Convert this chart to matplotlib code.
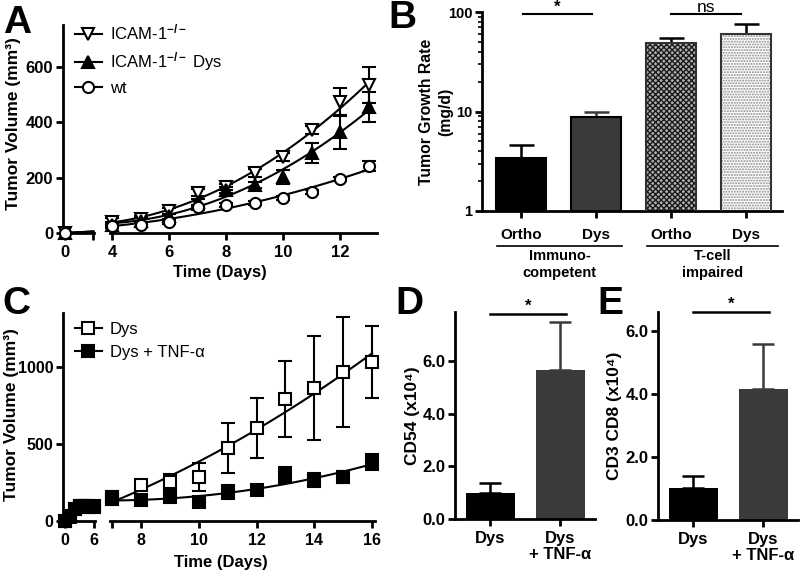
import matplotlib
matplotlib.use("Agg")
import matplotlib.pyplot as plt
import numpy as np
from matplotlib.lines import Line2D
from matplotlib.transforms import blended_transform_factory

plt.rcParams['font.family'] = ['Liberation Sans', 'DejaVu Sans']
plt.rcParams['font.weight'] = 'bold'
plt.rcParams['axes.labelweight'] = 'bold'
plt.rcParams['mathtext.fontset'] = 'custom'
plt.rcParams['mathtext.rm'] = 'Liberation Sans'
plt.rcParams['mathtext.it'] = 'Liberation Sans:italic'
plt.rcParams['mathtext.bf'] = 'Liberation Sans:bold'

# ---- panel A: tumor volume, ICAM-1 knockouts
a_days_early = [0, 1]
a_icam_early = [0, 6]
a_dys_early = [0, 5]
a_wt_early = [0, 4]
a_days = [4, 5, 6, 7, 8, 9, 10, 11, 12, 13]
a_icam = [40, 50, 80, 145, 166, 216, 274, 371, 472, 533]
a_icam_err = [15, 10, 10, 12, 12, 15, 15, 15, 50, 65]
a_dys = [30, 45, 60, 110, 155, 173, 202, 288, 364, 454]
a_dys_err = [10, 8, 10, 12, 10, 12, 25, 35, 60, 55]
a_wt = [25, 29, 40, 92, 101, 108, 126, 148, 195, 241]
a_wt_err = [8, 6, 6, 8, 6, 6, 8, 8, 8, 18]
a_names = ['ICAM-1$^{-/-}$', 'ICAM-1$^{-/-}$ Dys', 'wt']

# ---- panel B: growth rate (log)
b_labels = ['Ortho', 'Dys', 'Ortho', 'Dys']
b_vals = [3.43, 8.9, 48.3, 60.0]
b_err = [1.2, 1.1, 6.3, 15.7]
b_groups = ['Immuno-\ncompetent', 'T-cell\nimpaired']

# ---- panel C: Dys vs Dys + TNF
c_days_early = [0, 1, 2, 3, 4, 5, 6]
c_dys_early = [0, 30, 80, 100, 100, 95, 95]
c_tnf_early = [0, 25, 75, 95, 100, 90, 90]
c_days = [7, 8, 9, 10, 11, 12, 13, 14, 15, 16]
c_dys = [156, 234, 253, 286, 474, 604, 792, 863, 967, 1032]
c_dys_err = [20, 30, 50, 90, 160, 195, 245, 340, 355, 235]
c_tnf = [140, 136, 156, 123, 188, 201, 299, 266, 286, 383]
c_tnf_err = [15, 20, 25, 15, 45, 35, 50, 45, 40, 55]
c_names = ['Dys', 'Dys + TNF-α']

# ---- panels D / E
de_labels = ['Dys', 'Dys\n+ TNF-α']
d_vals = [1.0, 5.66]
d_err = [0.36, 1.81]
e_vals = [1.02, 4.16]
e_err = [0.38, 1.43]

W, H = 800, 576
fig = plt.figure(figsize=(8, 5.76), dpi=100)


def add_ax(x0, y0, x1, y1):
    return fig.add_axes([x0 / W, 1 - y1 / H, (x1 - x0) / W, (y1 - y0) / H])


def style(ax, size=12, left=True):
    ax.patch.set_alpha(0)
    for s in ['top', 'right']:
        ax.spines[s].set_visible(False)
    for s in ['left', 'bottom']:
        ax.spines[s].set_linewidth(2)
    ax.tick_params(width=2, length=5, labelsize=size)
    ax.tick_params(axis='y', pad=2)
    if not left:
        ax.spines['left'].set_visible(False)
        ax.tick_params(axis='y', left=False, labelleft=False)


def ftext(x, y, s, **kw):
    fig.text(x / W, 1 - y / H, s, ha='center', va='center', **kw)


def legend_at(handles, names, x, y):
    fig.legend(handles, names, loc='upper left',
               bbox_to_anchor=(x / W, 1 - y / H), frameon=False,
               prop={'weight': 'normal', 'size': 12}, handlelength=1.6,
               labelspacing=0.45, handletextpad=0.5, borderpad=0,
               borderaxespad=0)


# ================= A =================
axA0 = add_ax(63, 25, 94, 233)
axA1 = add_ax(110, 25, 377, 233)
style(axA0)
style(axA1, left=False)
for ax in (axA0, axA1):
    ax.set_ylim(0, 750)
axA0.set_xlim(-0.07, 1.02)
axA0.set_xticks([0, 1])
axA0.set_xticklabels(['0', ''])
axA0.set_yticks([0, 200, 400, 600])
axA1.set_xlim(3.93, 13.28)
axA1.set_xticks([4, 6, 8, 10, 12])

a_series = [
    (a_icam_early, a_icam, a_icam_err, 'v', 'white'),
    (a_dys_early, a_dys, a_dys_err, '^', 'black'),
    (a_wt_early, a_wt, a_wt_err, 'o', 'white'),
]
xf = np.linspace(4, 13, 100)
for early, vals, err, mk, fc in a_series:
    axA0.plot(a_days_early, early, color='k', lw=1.5, marker=mk, mfc=fc,
              mec='k', ms=8, mew=1.5, markevery=[0], clip_on=False, zorder=3)
    axA1.errorbar(a_days, vals, yerr=err, fmt='none', ecolor='k',
                  elinewidth=1.5, capsize=5, capthick=1.5, clip_on=False)
    coef = np.polyfit(a_days, vals, 2)
    axA1.plot(xf, np.polyval(coef, xf), color='k', lw=1.5, clip_on=False)
    axA1.plot(a_days, vals, ls='none', marker=mk, mfc=fc, mec='k', ms=8,
              mew=1.5, clip_on=False, zorder=4)

handles = [Line2D([], [], color='k', lw=1.5, marker=mk, mfc=fc, mec='k',
                  ms=8, mew=1.5) for _, _, _, mk, fc in a_series]
legend_at(handles, a_names, 75, 23)
ftext(220, 272, 'Time (Days)', fontsize=12, fontweight='bold')
ftext(14, 124, 'Tumor Volume (mm³)', fontsize=12.5, fontweight='bold',
      rotation=90)

# ================= B =================
axB = add_ax(482, 12, 782, 211)
style(axB, size=10.5)
axB.set_yscale('log')
xb = np.arange(len(b_vals))
face = ['black', '#3a3a3a', '#b0b0b0', 'white']
hatch = [None, None, 'xxxxxx', '......']
hcol = ['black', '#3a3a3a', '#1a1a1a', '#8a8a8a']
for i in range(len(b_vals)):
    axB.bar(xb[i], b_vals[i], width=0.67, color=face[i], hatch=hatch[i],
            edgecolor=hcol[i], linewidth=0, zorder=2)
    axB.bar(xb[i], b_vals[i], width=0.67, fill=False,
            edgecolor='black' if i < 2 else '#333333', linewidth=1.5, zorder=3)
    axB.errorbar(xb[i], b_vals[i], yerr=[[0], [b_err[i]]], fmt='none',
                 ecolor='black' if i != 1 else '#3a3a3a', elinewidth=1.8,
                 capsize=9, capthick=1.8, zorder=1)
axB.set_ylim(1, 100)
axB.set_xlim(-0.52, 3.48)
axB.set_yticks([1, 10, 100])
axB.set_yticklabels(['1', '10', '100'])
axB.tick_params(axis='y', which='minor', length=3, width=1.2)
axB.set_xticks(xb)
axB.set_xticklabels(b_labels, fontsize=11)
axB.tick_params(axis='x', pad=7)
axB.plot([0.02, 0.95], [95, 95], color='k', lw=1.5, clip_on=False)
axB.text(0.48, 112, '*', ha='center', va='center', fontsize=12)
axB.plot([2.0, 2.93], [95, 95], color='k', lw=1.5, clip_on=False)
axB.text(2.47, 112, 'ns', ha='center', va='center', fontsize=12.5,
         fontweight='normal')
trB = blended_transform_factory(axB.transData, axB.transAxes)
for (x0, x1), g in zip([(-0.32, 1.35), (1.68, 3.43)], b_groups):
    axB.plot([x0, x1], [-0.176, -0.176], color='k', lw=1.2,
             transform=trB, clip_on=False)
    axB.text((x0 + x1) / 2, -0.19, g, transform=trB, ha='center', va='top',
             fontsize=10.5, linespacing=1.3)
ftext(436, 112, 'Tumor Growth Rate\n(mg/d)', fontsize=11.3,
      fontweight='bold', rotation=90, linespacing=1.35)

# ================= C =================
axC0 = add_ax(63, 313, 95, 521)
axC1 = add_ax(110, 313, 375, 521)
style(axC0, size=11.5)
style(axC1, size=11.5, left=False)
for ax in (axC0, axC1):
    ax.set_ylim(0, 1350)
axC0.set_xlim(-0.41, 6.2)
axC0.set_xticks([0, 6])
axC0.set_yticks([0, 500, 1000])
axC1.set_xlim(6.93, 16.1)
axC1.set_xticks([7, 8, 10, 12, 14, 16])
axC1.set_xticklabels(['', '8', '10', '12', '14', '16'])

c_series = [
    (c_dys_early, c_dys, c_dys_err, 'white'),
    (c_tnf_early, c_tnf, c_tnf_err, 'black'),
]
xc = np.linspace(7, 16, 100)
for early, vals, err, fc in c_series:
    axC0.plot(c_days_early, early, color='k', lw=1.5, marker='s', mfc=fc,
              mec='k', ms=8, mew=1.5, clip_on=False, zorder=3)
    axC1.errorbar(c_days, vals, yerr=err, fmt='none', ecolor='k',
                  elinewidth=1.5, capsize=5, capthick=1.5, clip_on=False)
    coef = np.polyfit(c_days, vals, 2)
    axC1.plot(xc, np.polyval(coef, xc), color='k', lw=1.5, clip_on=False)
    axC1.plot(c_days, vals, ls='none', marker='s', mfc=fc, mec='k', ms=8,
              mew=1.5, clip_on=False, zorder=4)

handles = [Line2D([], [], color='k', lw=1.5, marker='s', mfc=fc, mec='k',
                  ms=8, mew=1.5) for _, _, _, fc in c_series]
legend_at(handles, c_names, 75, 322)
ftext(221, 563, 'Time (Days)', fontsize=12, fontweight='bold')
ftext(12, 415, 'Tumor Volume (mm³)', fontsize=12.5, fontweight='bold',
      rotation=90)


# ================= D / E =================
def bar_panel(ax, vals, err, ylim, yticks, ylabel, star_y):
    style(ax)
    xs = np.arange(len(vals))
    cols = ['black', '#3a3a3a']
    for i in range(len(vals)):
        ax.bar(xs[i], vals[i], width=0.7, color=cols[i], zorder=2)
        ax.errorbar(xs[i], vals[i], yerr=[[0], [err[i]]], fmt='none',
                    ecolor=cols[i], elinewidth=1.8, capsize=8, capthick=1.8,
                    zorder=1)
    ax.set_xlim(-0.5, 1.5)
    ax.set_ylim(*ylim)
    ax.set_yticks(yticks)
    ax.set_yticklabels(['%.1f' % t for t in yticks])
    ax.set_xticks(xs)
    ax.set_xticklabels(de_labels, linespacing=1.1)
    ax.set_ylabel(ylabel, fontsize=12.5, labelpad=2)
    ax.plot([0, 1.08], [star_y, star_y], color='k', lw=1.8, clip_on=False)
    ax.text(0.54, star_y, '*', ha='center', va='bottom', fontsize=12)


axD = add_ax(455, 312, 595, 519)
bar_panel(axD, d_vals, d_err, (0, 7.86), [0, 2, 4, 6], 'CD54 (x10⁴)', 7.8)
axE = add_ax(658, 312, 798, 520)
bar_panel(axE, e_vals, e_err, (0, 6.6), [0, 2, 4, 6], 'CD3 CD8 (x10⁴)', 6.6)

# panel letters
for lab, x, y in [('A', 17, 23), ('B', 402, 18), ('C', 16, 304),
                  ('D', 409, 304), ('E', 610, 304)]:
    ftext(x, y, lab, fontsize=28, fontweight='bold')

fig.savefig('out.png', dpi=100)
